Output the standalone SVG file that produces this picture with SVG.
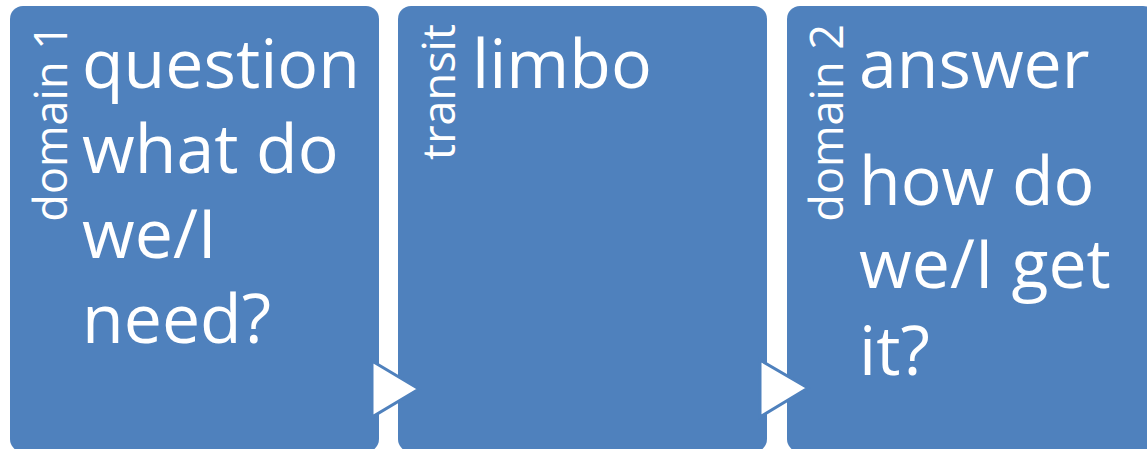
<svg xmlns="http://www.w3.org/2000/svg" width="1147" height="449" viewBox="0 0 1147 449">
<style>
.box{fill:#4F81BD}
.main{font-family:"Open Sans","Liberation Sans",sans-serif;font-size:68px;fill:#fff}
.side{font-family:"Open Sans","Liberation Sans",sans-serif;font-size:45px;fill:#fff;text-anchor:end}
.arrow{fill:#fff;stroke:#4F81BD;stroke-width:3;stroke-linejoin:miter}
</style>
<g id="node-domain1">
<rect class="box" x="10" y="6" width="369" height="446" rx="13"/>
<text class="side" transform="translate(67,24) rotate(-90)">domain 1</text>
<text class="main"><tspan x="82" y="88">question</tspan><tspan x="82" y="173">what do</tspan><tspan x="82" y="258">we/I</tspan><tspan x="82" y="343">need?</tspan></text>
</g>
<g id="node-transit">
<rect class="box" x="398" y="6" width="369" height="446" rx="13"/>
<text class="side" transform="translate(455,24) rotate(-90)">transit</text>
<text class="main" x="472" y="88">limbo</text>
</g>
<g id="node-domain2">
<rect class="box" x="787" y="6" width="369" height="446" rx="13"/>
<text class="side" transform="translate(843,24) rotate(-90)">domain 2</text>
<text class="main"><tspan x="859" y="88">answer</tspan><tspan x="859" y="205">how do</tspan><tspan x="859" y="288">we/I get</tspan><tspan x="859" y="375">it?</tspan></text>
</g>
<g id="connectors">
<polygon class="arrow" points="372,361 419,389 372,417"/>
<polygon class="arrow" points="760,360 808,388 760,417"/>
</g>
</svg>
